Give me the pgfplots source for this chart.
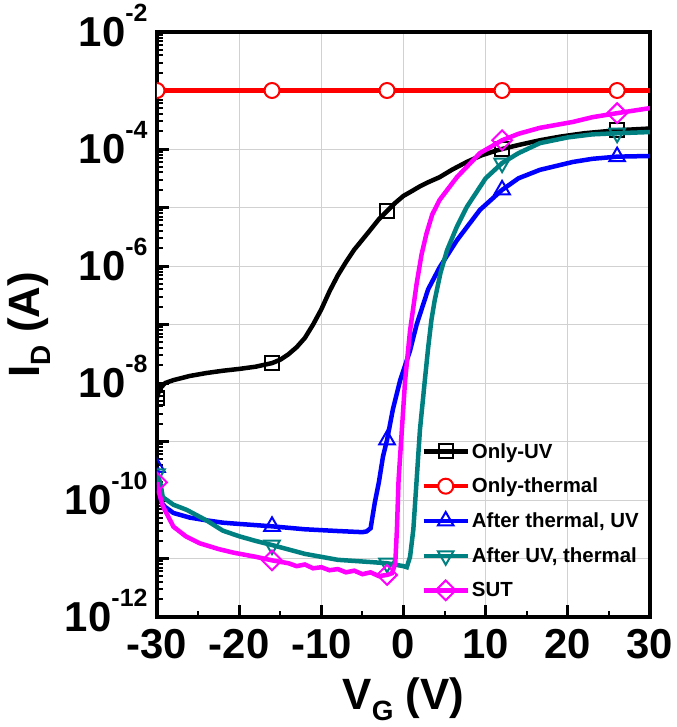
\documentclass[border=0pt]{standalone}
\usepackage{fontspec}
\setmainfont{Liberation Sans}
\usepackage{pgfplots}
\pgfplotsset{compat=1.18}
\definecolor{cuv}{HTML}{000000}
\definecolor{cth}{HTML}{FF0000}
\definecolor{cthuv}{HTML}{0000FF}
\definecolor{cuvth}{HTML}{008080}
\definecolor{csut}{HTML}{FF00FF}
\newcommand\ep[1]{\raisebox{0.6em}[0pt][0pt]{\fontsize{25}{25}\selectfont #1}}
\newcommand\sub[1]{\raisebox{-0.25em}{\fontsize{28}{28}\selectfont #1}}

\begin{document}
\begin{tikzpicture}
\begin{axis}[
    scale only axis,
    width=493bp, height=585bp,
    ymode=log,
    xmin=-30, xmax=30,
    ymin=1e-12, ymax=1e-2,
    clip marker paths=true,
    xtick={-30,-20,-10,0,10,20,30},
    xticklabels={-30,-20,-10,0,10,20,30},
    minor x tick num=1,
    ytick={1e-12,1e-11,1e-10,1e-9,1e-8,1e-7,1e-6,1e-5,1e-4,1e-3,1e-2},
    yticklabels={10\ep{-12},,10\ep{-10},,10\ep{-8},,10\ep{-6},,10\ep{-4},,10\ep{-2}},
    tick pos=left,
    tick align=inside,
    major tick length=12bp, minor tick length=6bp,
    major tick style={line width=3bp, black},
    minor tick style={line width=2bp, black},
    axis line style={line width=3.5bp},
    grid=major,
    grid style={line width=1bp, color=black!18},
    tick label style={font=\fontsize{42}{42}\selectfont\bfseries},
    xticklabel style={yshift=-9bp},
    yticklabel style={xshift=-6bp},
    label style={font=\fontsize{44}{44}\selectfont\bfseries},
    xlabel={V\sub{G} (V)},
    ylabel={I\sub{D} (A)},
    xlabel shift=12bp,
    ylabel shift=8bp,
    legend style={at={(0.53,0.025)}, anchor=south west, draw=none, fill=none,
        font=\fontsize{20.5}{20.5}\selectfont\bfseries, row sep=14.5bp},
    legend cell align=left,
    legend image code/.code={\draw[mark repeat=2,mark phase=2] plot coordinates {(0bp,0bp)(22bp,0bp)(44bp,0bp)};},
]

% Only-UV
\addplot[cuv, line width=4.5bp, forget plot] coordinates {
    (-30,5.6e-9) (-29.7,7.9e-9) (-29,1.0e-8) (-28,1.12e-8) (-26,1.32e-8)
    (-24,1.48e-8) (-22,1.62e-8) (-20,1.74e-8) (-18,1.9e-8) (-16,2.19e-8)
    (-15,2.5e-8) (-14,3.1e-8) (-13,4.1e-8) (-12,5.9e-8) (-11,1.0e-7)
    (-10,1.82e-7) (-9,3.7e-7) (-8,6.9e-7) (-7,1.17e-6) (-6,1.9e-6)
    (-5,2.82e-6) (-4,4.2e-6) (-3,6.3e-6) (-2,8.7e-6) (-1,1.2e-5)
    (0,1.58e-5) (1,1.9e-5) (2,2.3e-5) (3,2.7e-5) (4.4,3.3e-5)
    (6,4.5e-5) (7.7,6.0e-5) (9.5,7.8e-5) (11.4,9.5e-5) (12,1.0e-4)
    (14,1.17e-4) (16.6,1.41e-4) (19,1.62e-4) (22,1.86e-4) (26,2.09e-4) (30,2.24e-4)
};
\addplot[cuv, only marks, mark=square, mark size=7bp, mark options={fill=white, line width=2bp}, forget plot] coordinates {
    (-30,5.6e-9) (-16,2.19e-8) (-2,8.7e-6) (12,1.0e-4) (26,2.09e-4)
};
\addlegendimage{cuv, line width=4.5bp, mark=square, mark size=7bp, mark options={fill=white, line width=2bp}}
\addlegendentry{Only-UV}

% Only-thermal
\addplot[cth, line width=4.5bp, forget plot] coordinates {
    (-30,1.0e-3) (-16,1.0e-3) (-2,1.0e-3) (12,1.0e-3) (26,1.0e-3) (30,1.0e-3)
};
\addplot[cth, only marks, mark=*, mark size=7.5bp, mark options={fill=white, line width=2bp}, forget plot] coordinates {
    (-30,1.0e-3) (-16,1.0e-3) (-2,1.0e-3) (12,1.0e-3) (26,1.0e-3)
};
\addlegendimage{cth, line width=4.5bp, mark=*, mark size=7.5bp, mark options={fill=white, line width=2bp}}
\addlegendentry{Only-thermal}

% After thermal, UV
\addplot[cthuv, line width=4.5bp, forget plot] coordinates {
    (-30,3.6e-10) (-29.7,1.26e-10) (-29.4,8.9e-11) (-29,7.6e-11) (-28,6.0e-11)
    (-26,5.0e-11) (-24,4.5e-11) (-22,4.1e-11) (-20,3.9e-11) (-16,3.55e-11)
    (-12,3.16e-11) (-8,2.95e-11) (-5,2.82e-11) (-4.5,2.9e-11) (-4,3.3e-11)
    (-3.5,8.9e-11) (-3,2.0e-10) (-2.5,5.5e-10) (-2,1.07e-9) (-1.3,3.5e-9)
    (-0.4,1.12e-8) (0.8,3.6e-8) (1.6,1.0e-7) (3,4.0e-7) (4.4,9.5e-7)
    (6.5,2.75e-6) (9.3,9.1e-6) (12,2.0e-5) (14,3.16e-5) (16.6,4.4e-5)
    (20.6,6.0e-5) (23,6.8e-5) (26,7.4e-5) (30,7.6e-5)
};
\addplot[cthuv, only marks, mark=triangle, mark size=9bp, mark options={fill=white, line width=2bp}, forget plot] coordinates {
    (-30,3.6e-10) (-16,3.55e-11) (-2,1.07e-9) (12,2.0e-5) (26,7.4e-5)
};
\addlegendimage{cthuv, line width=4.5bp, mark=triangle, mark size=9bp, mark options={fill=white, line width=2bp}}
\addlegendentry{After thermal,\ UV}

% After UV, thermal
\addplot[cuvth, line width=4.5bp, forget plot] coordinates {
    (-30,2.8e-10) (-29.6,2.0e-10) (-29.3,1.12e-10) (-28,8.3e-11) (-26.4,6.8e-11)
    (-24,4.5e-11) (-22,3.0e-11) (-20,2.4e-11) (-18,2.0e-11) (-16,1.7e-11)
    (-12,1.2e-11) (-8,9.5e-12) (-4,8.7e-12) (-2,8.3e-12) (0,7.4e-12)
    (0.4,7.1e-12) (0.8,1.07e-11) (1.2,3.16e-11) (1.6,2.2e-10) (2.0,1.58e-9)
    (2.6,1.12e-8) (3.0,4.0e-8) (3.4,1.2e-7) (3.8,2.6e-7) (4.5,7.6e-7)
    (5.3,1.86e-6) (6.5,4.7e-6) (7.7,1.02e-5) (10,3.16e-5) (12,5.75e-5)
    (14,8.5e-5) (16.6,1.26e-4) (20,1.58e-4) (23,1.78e-4) (26,1.86e-4) (30,1.95e-4)
};
\addplot[cuvth, only marks, mark=triangle, mark size=9bp, mark options={fill=white, line width=2bp, rotate=180}, forget plot] coordinates {
    (-30,2.8e-10) (-16,1.7e-11) (-2,8.3e-12) (12,5.75e-5) (26,1.86e-4)
};
\addlegendimage{cuvth, line width=4.5bp, mark=triangle, mark size=9bp, mark options={fill=white, line width=2bp, rotate=180}}
\addlegendentry{After UV, thermal}

% SUT
\addplot[csut, line width=4.5bp, forget plot] coordinates {
    (-30,2.0e-10) (-29.7,1.26e-10) (-29.3,7.9e-11) (-28,3.5e-11) (-26.5,2.4e-11)
    (-24.8,1.82e-11) (-22.5,1.45e-11) (-20.7,1.26e-11) (-18,1.07e-11) (-16,9.3e-12)
    (-14,8.3e-12) (-13,7.4e-12) (-12,7.9e-12) (-11,6.8e-12) (-10,7.1e-12)
    (-9,6.3e-12) (-8,6.6e-12) (-7,5.8e-12) (-6,6.2e-12) (-5,5.4e-12)
    (-4,5.8e-12) (-3,5.0e-12) (-2,5.25e-12) (-1.4,5.6e-12) (-1.0,8.3e-12)
    (-0.8,3.16e-11) (-0.6,2.2e-10) (-0.2,1.58e-9) (0.2,1.12e-8) (0.8,7.9e-8)
    (1.6,5.0e-7) (2.2,1.58e-6) (2.8,3.6e-6) (3.5,7.6e-6) (4.4,1.35e-5)
    (6.5,3.3e-5) (9.3,8.5e-5) (12,1.41e-4) (14,1.82e-4) (16.6,2.3e-4)
    (20.6,2.9e-4) (23,3.5e-4) (26,4.1e-4) (30,5.0e-4)
};
\addplot[csut, only marks, mark=square, mark size=7bp, mark options={fill=white, line width=2bp, rotate=45}, forget plot] coordinates {
    (-30,2.0e-10) (-16,9.3e-12) (-2,5.25e-12) (12,1.41e-4) (26,4.1e-4)
};
\addlegendimage{csut, line width=4.5bp, mark=square, mark size=7bp, mark options={fill=white, line width=2bp, rotate=45}}
\addlegendentry{SUT}

\end{axis}
\path ([shift={(-157bp,-110bp)}]current axis.south west) rectangle ([shift={(25bp,32bp)}]current axis.north east);
\end{tikzpicture}
\end{document}
